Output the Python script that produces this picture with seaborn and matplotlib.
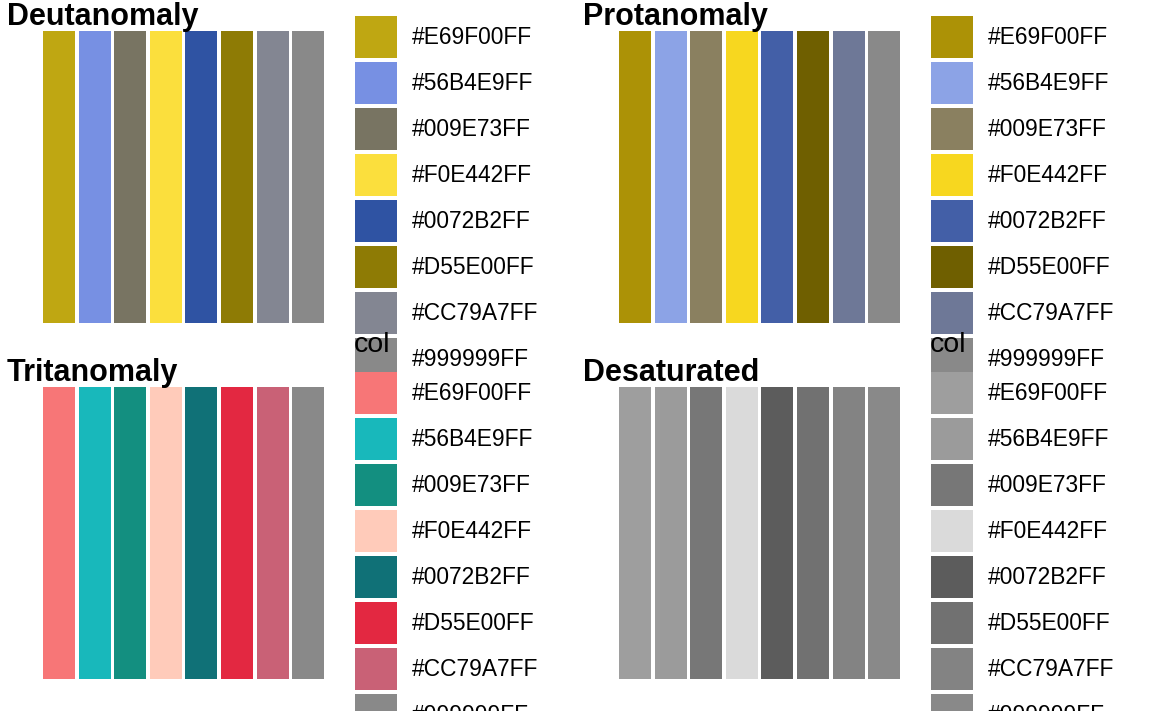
import pandas as pd
import seaborn as sns
import matplotlib.pyplot as plt
from matplotlib.patches import Patch

# Original palette (labels) and its simulated versions (fills)
labels = ['#E69F00FF', '#56B4E9FF', '#009E73FF', '#F0E442FF',
          '#0072B2FF', '#D55E00FF', '#CC79A7FF', '#999999FF']

deutan = ['#BFA712', '#7790E3', '#787462', '#FBDF3D',
          '#2F53A3', '#8E7B05', '#838692', '#898989']
protan = ['#AC9206', '#8CA3E6', '#8A8060', '#F7D71F',
          '#435FA7', '#6F5F00', '#6E7897', '#898989']
tritan = ['#F77677', '#18B8BB', '#138F80', '#FFCBBA',
          '#107177', '#E32841', '#C96176', '#898989']
desat = ['#9E9E9E', '#9B9B9B', '#777777', '#DADADA',
         '#5C5C5C', '#717171', '#838383', '#898989']

panels = ['Deutanomaly', 'Protanomaly', 'Tritanomaly', 'Desaturated']
fills = [deutan, protan, tritan, desat]

sns.set_theme(style='white')
plt.rcParams['font.family'] = ['Liberation Sans', 'DejaVu Sans']
plt.rcParams['text.color'] = 'black'

W, H = 1152, 711
fig = plt.figure(figsize=(W / 100, H / 100), dpi=100)

leg_fs = 16.4                  # pt
fs_px = leg_fs * 100 / 72      # pixels
# matplotlib's patch handle height is fs*hh - 0.35*fs*(hh-0.7)
hh = (42 / fs_px - 0.245) / 0.65

for i, (name, cols) in enumerate(zip(panels, fills)):
    dx = 576 * (i % 2)
    dy = 356 * (i // 2)

    ax = fig.add_axes([(37.7 + dx) / W, 1 - (323 + dy) / H,
                       291.8 / W, 292 / H])
    df = pd.DataFrame({'col': labels, 'value': [1] * len(labels)})
    sns.barplot(data=df, x='col', y='value', hue='col', order=labels,
                hue_order=labels, palette=dict(zip(labels, cols)),
                saturation=1, width=0.9, linewidth=0, legend=False, ax=ax)
    ax.set_xlim(-0.6, len(labels) - 0.4)
    ax.set_ylim(0, 1)
    ax.set_axis_off()

    fig.text((7 + dx) / W, 1 - (25 + dy) / H, name, fontsize=22,
             fontweight='bold', ha='left', va='baseline')

    handles = [Patch(facecolor=c, edgecolor='none', label=l)
               for c, l in zip(cols, labels)]
    ax.legend(handles=handles, loc='upper left',
              bbox_to_anchor=((355 + dx) / W, 1 - (16 + dy) / H),
              bbox_transform=fig.transFigure, frameon=False,
              fontsize=leg_fs, labelcolor='black', borderpad=0,
              borderaxespad=0, handlelength=42 / fs_px, handleheight=hh,
              labelspacing=4 / fs_px, handletextpad=15 / fs_px)
    # legend title sits above the keys; for the top row it falls off the canvas
    if dy > 0:
        fig.text((354 + dx) / W, 1 - (352 + dy - 356) / H, 'col',
                 fontsize=20.5, ha='left', va='baseline')

fig.savefig('out.png', dpi=100)
